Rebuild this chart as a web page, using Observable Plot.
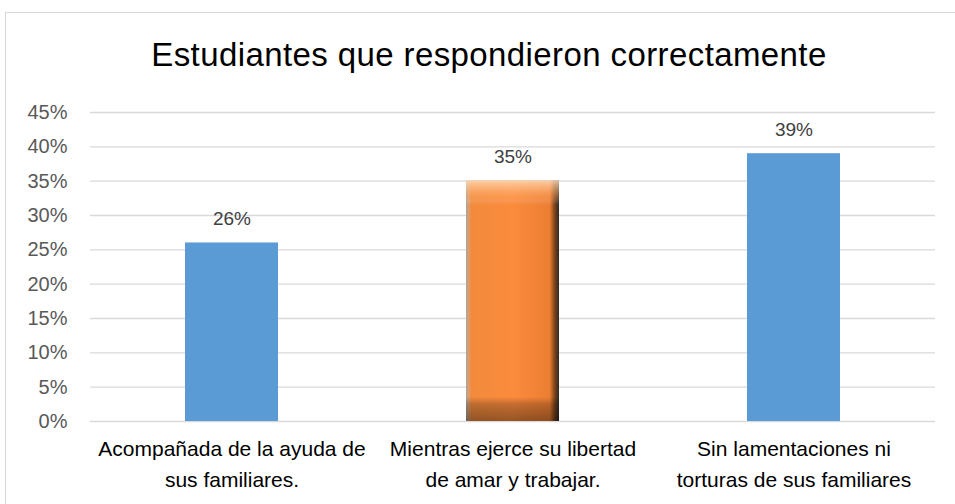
<!DOCTYPE html>
<html><head><meta charset="utf-8">
<script src="https://cdn.jsdelivr.net/npm/d3@7"></script>
<script src="https://cdn.jsdelivr.net/npm/@observablehq/plot@0.6"></script>
<style>
body{margin:0;background:#fff;width:955px;height:504px;overflow:hidden;position:relative;font-family:"Liberation Sans",Arial,sans-serif}
#frame{position:absolute;left:5px;top:12px;width:960px;height:500px;border:1px solid #d9d9d9;box-sizing:border-box}
#title{position:absolute;left:0;width:978px;top:36px;text-align:center;font-size:33px;letter-spacing:0.4px;color:#000;}
#chart{position:absolute;left:0;top:0}
</style></head>
<body>
<div id="frame"></div>
<div id="chart"></div>
<div id="title">Estudiantes que respondieron correctamente</div>
<script>
const categories = ["Acompañada de la ayuda de\nsus familiares.", "Mientras ejerce su libertad\nde amar y trabajar.", "Sin lamentaciones ni\ntorturas de sus familiares"];
const values = [0.26, 0.35, 0.39];
const labels = ["26%", "35%", "39%"];
const yTicks = [0, 0.05, 0.10, 0.15, 0.20, 0.25, 0.30, 0.35, 0.40, 0.45];
const highlighted = [false, true, false];

const data = categories.map((c, i) => ({cat: c, v: values[i], label: labels[i], hi: highlighted[i]}));
const plain = data.filter(d => !d.hi);
const hi = data.filter(d => d.hi);

const defs = () => {
  const svg = d3.create("svg:g");
  const d = svg.append("defs");
  const g1 = d.append("linearGradient").attr("id", "hgrad").attr("x1", 0).attr("x2", 1).attr("y1", 0).attr("y2", 0);
  [[0, "#a8a49e"], [0.025, "#d8a072"], [0.06, "#f28a3c"], [0.5, "#fb8b3d"], [0.9, "#ec7e33"], [0.955, "#7a4219"], [1, "#2e2a26"]]
    .forEach(([o, c]) => g1.append("stop").attr("offset", o).attr("stop-color", c));
  const g2 = d.append("linearGradient").attr("id", "vgrad").attr("x1", 0).attr("x2", 0).attr("y1", 0).attr("y2", 1);
  [[0, "#ffe0c0", 0.8], [0.07, "#ffb070", 0.3], [0.1, "#ffffff", 0], [0.9, "#000000", 0], [0.93, "#000000", 0.22], [1, "#000000", 0.4]]
    .forEach(([o, c, a]) => g2.append("stop").attr("offset", o).attr("stop-color", c).attr("stop-opacity", a));
  return svg.node();
};

const chart = Plot.plot({
  width: 955,
  height: 504,
  marginTop: 112,
  marginBottom: 83,
  marginLeft: 90,
  marginRight: 20,
  style: {fontFamily: "'Liberation Sans', Arial, sans-serif", background: "transparent"},
  x: {domain: categories, paddingInner: 0.67, paddingOuter: 0.335, label: null},
  y: {domain: [0, 0.45], label: null},
  marks: [
    defs,
    Plot.gridY(yTicks, {stroke: "#d9d9d9", strokeOpacity: 1, strokeWidth: 1.3}),
    Plot.axisY(yTicks, {tickFormat: d => Math.round(d * 100) + "%", tickSize: 0, tickPadding: 23, fontSize: 20, fill: "#595959", label: null}),
    Plot.axisX({tickSize: 0, tickPadding: 12, fontSize: 21, lineHeight: 1.5, fill: "#000", label: null}),
    Plot.barY(plain, {x: "cat", y: "v", fill: "#5b9bd5"}),
    Plot.barY(hi, {x: "cat", y: "v", fill: "url(#hgrad)"}),
    Plot.barY(hi, {x: "cat", y: "v", fill: "url(#vgrad)"}),
    Plot.text(data, {x: "cat", y: "v", text: "label", dy: -24, fontSize: 19, fill: "#404040"})
  ]
});
document.getElementById("chart").append(chart);
</script>
</body></html>
